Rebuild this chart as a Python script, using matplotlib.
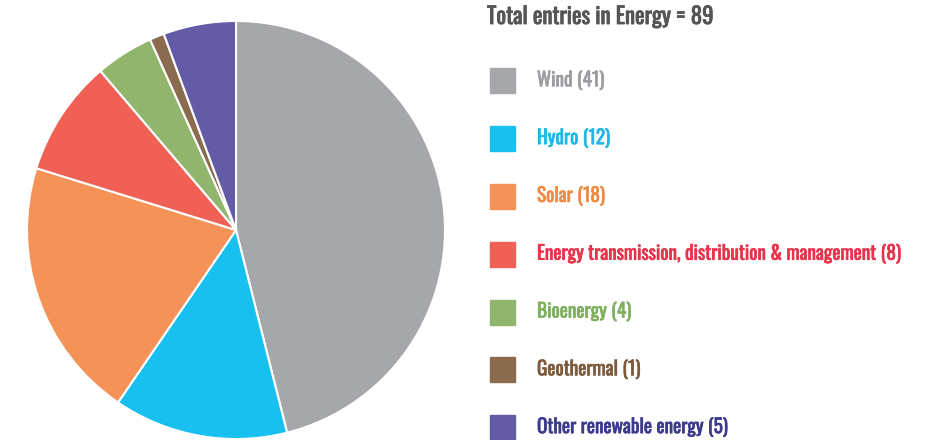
import matplotlib.pyplot as plt
import matplotlib.patheffects as pe

labels = ['Wind', 'Hydro', 'Solar', 'Energy transmission, distribution & management',
          'Bioenergy', 'Geothermal', 'Other renewable energy']
counts = [41, 12, 18, 8, 4, 1, 5]
colors = ['#a5a7aa', '#18c0f0', '#f59257', '#f06055', '#92b56e', '#8b6b50', '#635ba5']
text_colors = ['#9b9da0', '#1bb8e8', '#f08a43', '#e8334a', '#7fb060', '#7e5a3d', '#3b3a8c']
total = sum(counts)

plt.rcParams['font.family'] = ['Oswald', 'DejaVu Sans']

W, H = 926, 440
fig = plt.figure(figsize=(W / 100, H / 100), dpi=100)

# pie: centre (236, 230) px, radius 209 px
cx, cy, r = 236, 230, 209
ax = fig.add_axes([(cx - r) / W, (H - cy - r) / H, 2 * r / W, 2 * r / H])
ax.pie(counts, colors=colors, startangle=90, counterclock=False, radius=1,
       wedgeprops=dict(edgecolor='white', linewidth=1.5))
ax.set_xlim(-1, 1)
ax.set_ylim(-1, 1)
ax.set_aspect('equal')
ax.axis('off')

# legend drawn in pixel coords
lg = fig.add_axes([0, 0, 1, 1])
lg.set_xlim(0, W)
lg.set_ylim(H, 0)
lg.axis('off')

t = lg.text(487, 17, f'Total entries in Energy = {total}', fontsize=16.4,
            color='#555555', va='center', ha='left')
t.set_path_effects([pe.withStroke(linewidth=0.6, foreground='#555555')])

y0, step, sq = 81, 57.8, 25
for i, (lab, n) in enumerate(zip(labels, counts)):
    y = y0 + i * step
    lg.add_patch(plt.Rectangle((490, y - sq / 2), sq, sq, color=colors[i]))
    t = lg.text(537, y, f'{lab} ({n})', fontsize=13.9,
                color=text_colors[i], va='center', ha='left')
    t.set_path_effects([pe.withStroke(linewidth=0.45, foreground=text_colors[i])])

fig.savefig('out.png', dpi=100)
